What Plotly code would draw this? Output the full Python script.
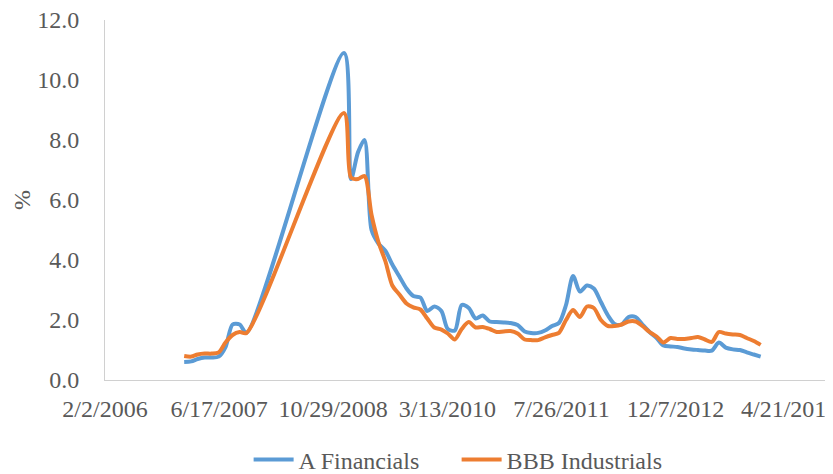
import plotly.graph_objects as go

# ---- data ----
dates = [
    "2007-01-15", "2007-02-15", "2007-03-15", "2007-04-15", "2007-05-15",
    "2007-06-15", "2007-07-15", "2007-08-15", "2007-09-15", "2007-10-15",
    "2008-12-15",
    "2009-01-15", "2009-02-15", "2009-03-15", "2009-04-15", "2009-05-15", "2009-06-15",
    "2009-07-15", "2009-08-15", "2009-09-15", "2009-10-15", "2009-11-15", "2009-12-15",
    "2010-01-15", "2010-02-15", "2010-03-15", "2010-04-15", "2010-05-15", "2010-06-15",
    "2010-07-15", "2010-08-15", "2010-09-15", "2010-10-15", "2010-11-15", "2010-12-15",
    "2011-01-15", "2011-02-15", "2011-03-15", "2011-04-15", "2011-05-15", "2011-06-15",
    "2011-07-15", "2011-08-15", "2011-09-15", "2011-10-15", "2011-11-15", "2011-12-15",
    "2012-01-15", "2012-02-15", "2012-03-15", "2012-04-15", "2012-05-15", "2012-06-15",
    "2012-07-15", "2012-08-15", "2012-09-15", "2012-10-15", "2012-11-15", "2012-12-15",
    "2013-01-15", "2013-02-15", "2013-03-15", "2013-04-15", "2013-05-15", "2013-06-15",
    "2013-07-15", "2013-08-15", "2013-09-15", "2013-10-15", "2013-11-15", "2013-12-15",
]

a_financials = [
    0.60, 0.62, 0.70, 0.75, 0.75, 0.78, 1.10, 1.85, 1.85, 1.57,
    10.90,
    6.70, 7.60, 8.00, 5.00, 4.55, 4.30,
    3.85, 3.45, 3.05, 2.80, 2.75, 2.30,
    2.45, 2.30, 1.70, 1.65, 2.50, 2.40,
    2.05, 2.15, 1.95, 1.93, 1.92, 1.90,
    1.83, 1.62, 1.57, 1.57, 1.65, 1.80,
    1.90, 2.50, 3.47, 2.95, 3.15, 3.05,
    2.60, 2.15, 1.87, 1.85, 2.10, 2.10,
    1.85, 1.60, 1.40, 1.15, 1.12, 1.10,
    1.05, 1.02, 1.00, 0.98, 0.98, 1.25,
    1.08, 1.02, 1.00, 0.92, 0.85, 0.78,
]

bbb_industrials = [
    0.80, 0.78, 0.85, 0.88, 0.88, 0.92, 1.25, 1.50, 1.60, 1.57,
    8.90,
    6.75, 6.70, 6.80, 5.50, 4.60, 3.95,
    3.15, 2.85, 2.55, 2.42, 2.35, 2.05,
    1.75, 1.68, 1.55, 1.35, 1.70, 1.93,
    1.75, 1.77, 1.70, 1.60, 1.62, 1.63,
    1.55, 1.35, 1.33, 1.33, 1.42, 1.50,
    1.57, 2.00, 2.33, 2.10, 2.45, 2.40,
    2.00, 1.80, 1.80, 1.85, 1.95, 1.95,
    1.80, 1.60, 1.45, 1.25, 1.40, 1.37,
    1.37, 1.40, 1.43, 1.35, 1.27, 1.60,
    1.55, 1.52, 1.50, 1.40, 1.30, 1.17,
]

x_tick_vals = ["2006-02-02", "2007-06-17", "2008-10-29", "2010-03-13",
               "2011-07-26", "2012-12-07", "2014-04-21"]
x_tick_text = ["2/2/2006", "6/17/2007", "10/29/2008", "3/13/2010",
               "7/26/2011", "12/7/2012", "4/21/2014"]
y_tick_vals = [0, 2, 4, 6, 8, 10, 12]

FONT = "Liberation Serif, Times New Roman, serif"
TXT = "#595959"
FS = 24

fig = go.Figure()
fig.add_trace(go.Scatter(
    x=dates, y=a_financials, name="A Financials", mode="lines",
    line=dict(color="#5B9BD5", width=4, shape="spline", smoothing=0.8),
))
fig.add_trace(go.Scatter(
    x=dates, y=bbb_industrials, name="BBB Industrials", mode="lines",
    line=dict(color="#ED7D31", width=4, shape="spline", smoothing=0.8),
))

# page body adds an 8px offset, so the figure is sized to fit the 833x474 window
fig.update_layout(
    width=825, height=466,
    margin=dict(l=97, r=0, t=12, b=94, autoexpand=False),
    paper_bgcolor="white", plot_bgcolor="white",
    font=dict(family=FONT, size=FS, color=TXT),
    showlegend=True,
    legend=dict(orientation="h", x=0.483, xanchor="center", y=-0.222, yanchor="middle",
                font=dict(family=FONT, size=FS, color=TXT),
                itemwidth=40, tracegroupgap=0, entrywidth=153, entrywidthmode="pixels"),
)
fig.update_xaxes(
    type="date", range=["2006-02-02", "2014-10-28"],
    tickmode="array", tickvals=x_tick_vals, ticktext=x_tick_text,
    showgrid=False, zeroline=False, showline=True, linecolor="#D0D0D0", linewidth=1,
    ticks="", ticklabelstandoff=7, automargin=False, ticklabeloverflow="allow",
    tickfont=dict(family=FONT, size=FS, color=TXT),
)
fig.update_yaxes(
    range=[0, 12], tickmode="array", tickvals=y_tick_vals, tickformat=".1f",
    showgrid=False, zeroline=False, showline=True, linecolor="#D0D0D0", linewidth=1,
    ticks="", ticklabelstandoff=20, automargin=False, ticklabeloverflow="allow",
    tickfont=dict(family=FONT, size=FS, color=TXT),
)
fig.add_annotation(
    text="%", xref="paper", yref="paper", x=-0.114, y=0.5,
    xanchor="center", yanchor="middle", showarrow=False, textangle=-90,
    font=dict(family=FONT, size=FS, color=TXT),
)

fig.write_html("out.html")
